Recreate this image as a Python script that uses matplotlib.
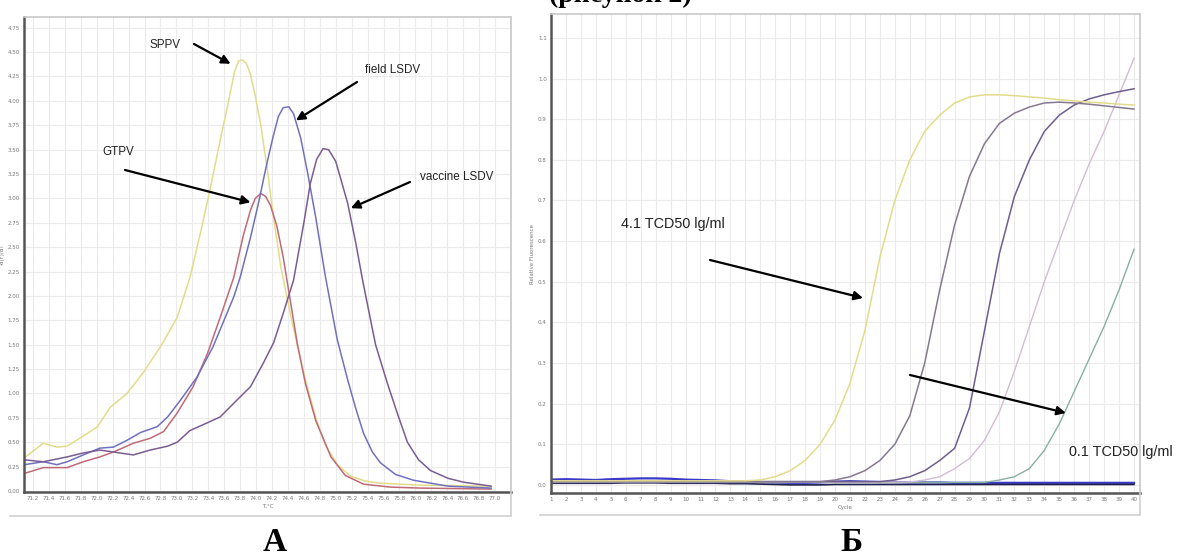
import matplotlib
matplotlib.use('Agg')
import matplotlib.pyplot as plt
from matplotlib import font_manager
from matplotlib.lines import Line2D
import numpy as np

# ---------------- data: panel A (melt curves) ----------------
sppv_t = [71.09, 71.33, 71.50, 71.63, 71.88, 72.01, 72.17, 72.38, 72.58, 72.80, 73.01, 73.17, 73.30,
          73.43, 73.55, 73.63, 73.68, 73.73, 73.78, 73.83, 73.88, 73.93, 73.99, 74.06, 74.14, 74.22,
          74.31, 74.46, 74.62, 74.75, 74.87, 75.02, 75.19, 75.38, 75.56, 76.07, 76.95]
sppv_d = [0.34, 0.49, 0.45, 0.46, 0.59, 0.66, 0.86, 1.00, 1.21, 1.48, 1.78, 2.19, 2.64, 3.12, 3.60,
          3.90, 4.10, 4.30, 4.41, 4.42, 4.38, 4.27, 4.05, 3.75, 3.30, 2.80, 2.30, 1.70, 1.14, 0.75,
          0.47, 0.27, 0.15, 0.10, 0.08, 0.06, 0.05]

gtpv_t = [71.09, 71.33, 71.63, 71.83, 72.04, 72.21, 72.46, 72.67, 72.84, 73.01, 73.21, 73.39, 73.55,
          73.72, 73.84, 73.93, 73.99, 74.06, 74.12, 74.18, 74.26, 74.34, 74.43, 74.52, 74.62, 74.75,
          74.94, 75.12, 75.35, 75.69, 76.07, 76.95]
gtpv_d = [0.18, 0.24, 0.24, 0.30, 0.35, 0.40, 0.49, 0.54, 0.61, 0.80, 1.07, 1.41, 1.78, 2.19, 2.62,
          2.88, 3.00, 3.05, 3.02, 2.93, 2.72, 2.40, 1.95, 1.50, 1.10, 0.72, 0.35, 0.16, 0.07, 0.04,
          0.03, 0.02]

field_t = [71.09, 71.33, 71.50, 71.63, 71.83, 72.04, 72.21, 72.38, 72.55, 72.76, 72.89, 73.05, 73.26,
           73.46, 73.72, 73.80, 73.93, 74.03, 74.12, 74.21, 74.28, 74.34, 74.41, 74.47, 74.56, 74.65,
           74.75, 74.87, 75.02, 75.15, 75.25, 75.35, 75.46, 75.56, 75.75, 75.98, 76.41, 76.95]
field_d = [0.27, 0.30, 0.27, 0.30, 0.37, 0.44, 0.45, 0.52, 0.60, 0.66, 0.76, 0.93, 1.17, 1.48, 1.99,
           2.19, 2.60, 2.95, 3.30, 3.62, 3.84, 3.93, 3.94, 3.87, 3.62, 3.25, 2.80, 2.20, 1.55, 1.14,
           0.85, 0.59, 0.40, 0.29, 0.17, 0.11, 0.05, 0.03]

vacc_t = [71.09, 71.33, 71.63, 71.83, 72.04, 72.21, 72.46, 72.67, 72.89, 73.01, 73.17, 73.39, 73.55,
          73.72, 73.93, 74.09, 74.22, 74.34, 74.47, 74.60, 74.68, 74.76, 74.84, 74.91, 75.00, 75.07,
          75.15, 75.25, 75.34, 75.50, 75.65, 75.78, 75.90, 76.04, 76.19, 76.41, 76.61, 76.95]
vacc_d = [0.32, 0.30, 0.35, 0.39, 0.42, 0.40, 0.37, 0.42, 0.46, 0.50, 0.62, 0.70, 0.76, 0.90, 1.07,
          1.31, 1.52, 1.82, 2.16, 2.75, 3.15, 3.40, 3.51, 3.50, 3.38, 3.18, 2.95, 2.55, 2.15, 1.50,
          1.10, 0.78, 0.50, 0.32, 0.21, 0.13, 0.09, 0.05]

a_xticks = [round(71.2 + 0.2 * i, 1) for i in range(30)]
a_yticks = [0.25 * i for i in range(20)]

# ---------------- data: panel B (amplification curves) ----------------
cycles = list(range(1, 41))
amp_41 = [0.010, 0.010, 0.010, 0.010, 0.010, 0.010, 0.010, 0.010, 0.010, 0.010, 0.010, 0.010, 0.010,
          0.010, 0.012, 0.020, 0.035, 0.060, 0.100, 0.160, 0.250, 0.380, 0.560, 0.700, 0.800, 0.870,
          0.910, 0.940, 0.955, 0.960, 0.960, 0.958, 0.955, 0.952, 0.948, 0.945, 0.942, 0.940, 0.937, 0.935]
amp_31 = [0.008] * 19 + [0.012, 0.020, 0.035, 0.060, 0.100, 0.170, 0.300, 0.480, 0.640, 0.760, 0.840,
                         0.890, 0.915, 0.930, 0.940, 0.942, 0.940, 0.937, 0.933, 0.929, 0.925]
amp_21 = [0.008] * 23 + [0.012, 0.020, 0.035, 0.060, 0.090, 0.190, 0.380, 0.570, 0.710, 0.800, 0.870,
                         0.910, 0.935, 0.950, 0.960, 0.968, 0.975]
amp_11 = [0.007] * 25 + [0.012, 0.020, 0.040, 0.065, 0.110, 0.180, 0.280, 0.390, 0.500, 0.600, 0.700,
                         0.790, 0.870, 0.960, 1.050]
amp_01 = [0.006] * 30 + [0.012, 0.020, 0.040, 0.085, 0.150, 0.230, 0.310, 0.390, 0.480, 0.580]
ntc_1 = [0.013, 0.014, 0.013, 0.012, 0.014, 0.015, 0.016, 0.016, 0.015, 0.013, 0.012, 0.011, 0.009,
         0.008, 0.007, 0.006, 0.005, 0.005, 0.006, 0.008, 0.009, 0.008, 0.007, 0.007, 0.006, 0.006,
         0.006, 0.005, 0.005, 0.005, 0.005, 0.005, 0.005, 0.005, 0.005, 0.005, 0.005, 0.005, 0.005, 0.005]
ntc_2 = [0.004, 0.004, 0.004, 0.004, 0.004, 0.005, 0.005, 0.005, 0.004, 0.004, 0.004, 0.004, 0.003,
         0.003, 0.002, 0.001, 0.000, 0.000, 0.000, 0.001, 0.001, 0.001, 0.001, 0.001, 0.001, 0.001,
         0.001, 0.001, 0.001, 0.001, 0.001, 0.001, 0.001, 0.001, 0.001, 0.001, 0.001, 0.001, 0.001, 0.001]
b_yticks = [round(0.1 * i, 1) for i in range(12)]

# ---------------- figure ----------------
W, H = 1178, 556
fig = plt.figure(figsize=(W / 100, H / 100), dpi=100)

names = {f.name for f in font_manager.fontManager.ttflist}
if 'Liberation Sans Narrow' in names:
    lab_font = ['Liberation Sans Narrow', 'DejaVu Sans']
    fs_a, fs_b = 10.5, 13
else:
    lab_font = ['Liberation Sans', 'DejaVu Sans']
    fs_a, fs_b = 8.4, 10.4
serif = ['Liberation Serif', 'DejaVu Serif']


def box(l, t, r, b):
    return [l / W, 1 - b / H, (r - l) / W, (b - t) / H]


def style_axes(ax):
    for s in ['left', 'bottom']:
        ax.spines[s].set_color('#555555')
        ax.spines[s].set_linewidth(1.8)
    for s in ['top', 'right']:
        ax.spines[s].set_color('#c8c8c8')
        ax.spines[s].set_linewidth(1.2)
    ax.grid(True, color='#ebebeb', lw=0.8)
    ax.set_axisbelow(True)
    ax.tick_params(length=0, labelsize=4, labelcolor='#777777', pad=3)


# Panel A
axA = fig.add_axes(box(24, 17, 511, 492))
axA.plot(sppv_t, sppv_d, color='#e2dc8a', lw=1.1)
axA.plot(gtpv_t, gtpv_d, color='#c06a78', lw=1.1)
axA.plot(field_t, field_d, color='#7070c0', lw=1.1)
axA.plot(vacc_t, vacc_d, color='#7a5c92', lw=1.1)
axA.set_xlim(71.087, 77.2)
axA.set_ylim(-0.01, 4.86)
axA.set_xticks(a_xticks)
axA.set_xticklabels([f'{v:.1f}' for v in a_xticks])
axA.set_yticks(a_yticks)
axA.set_yticklabels([f'{v:.2f}' for v in a_yticks])
style_axes(axA)
axA.set_xlabel('T,°C', fontsize=4, color='#777777', labelpad=2)
axA.set_ylabel('-d(F)/dT', fontsize=4, color='#777777', labelpad=2)

arrow = dict(arrowstyle='-|>', color='black', lw=1.6, mutation_scale=13, shrinkA=0, shrinkB=0)


def label(ax, text, tpos, start, target, fs):
    fig.text(tpos[0] / W, 1 - tpos[1] / H, text, ha='center', va='center', fontsize=fs,
             family=lab_font, color='#222222')
    ax.annotate('', xy=target, xycoords='data', xytext=(start[0], H - start[1]),
                textcoords='figure pixels', arrowprops=arrow, annotation_clip=False)


label(axA, 'SPPV', (165, 45), (194, 44), (73.68, 4.38), fs_a)
label(axA, 'field LSDV', (393, 70), (357, 82), (74.50, 3.80), fs_a)
label(axA, 'GTPV', (118, 152), (125, 170), (73.93, 2.96), fs_a)
label(axA, 'vaccine LSDV', (457, 177), (410, 182), (75.19, 2.90), fs_a)

# Panel B
axB = fig.add_axes(box(551, 14, 1140, 493))
axB.plot(cycles, ntc_1, color='#3a3ac8', lw=1.6)
axB.plot(cycles, ntc_2, color='#202050', lw=1.2)
axB.plot(cycles, amp_01, color='#88b0a0', lw=1.0)
axB.plot(cycles, amp_11, color='#d4bcd4', lw=1.0)
axB.plot(cycles, amp_21, color='#6e5e8e', lw=1.1)
axB.plot(cycles, amp_31, color='#857890', lw=1.1)
axB.plot(cycles, amp_41, color='#e2dc8a', lw=1.1)
axB.set_xlim(1.0, 40.4)
axB.set_ylim(-0.02, 1.159)
axB.set_xticks(cycles)
axB.set_xticklabels([str(c) for c in cycles])
axB.set_yticks(b_yticks)
axB.set_yticklabels([f'{v:.1f}' for v in b_yticks])
style_axes(axB)
axB.set_xlabel('Cycle', fontsize=4, color='#777777', labelpad=2)
axB.set_ylabel('Relative Fluorescence', fontsize=4, color='#777777', labelpad=2)

label(axB, '4.1 TCD50 lg/ml', (673, 224), (710, 260), (21.87, 0.46), fs_b)
label(axB, '0.1 TCD50 lg/ml', (1121, 452), (910, 375), (35.44, 0.177), fs_b)

# outer window frames
for (x0, y0, x1, y1) in [(10, 516, 511, 516), (511, 17, 511, 516),
                         (540, 515, 1140, 515), (1140, 14, 1140, 515)]:
    fig.add_artist(Line2D([x0 / W, x1 / W], [1 - y0 / H, 1 - y1 / H], color='#d0d0d0', lw=1.2,
                          transform=fig.transFigure))

# panel letters and clipped caption at top
fig.text(275 / W, 1 - 551 / H, 'А', ha='center', va='baseline', fontsize=24, fontweight='bold', family=serif)
fig.text(851 / W, 1 - 551 / H, 'Б', ha='center', va='baseline', fontsize=24, fontweight='bold', family=serif)
fig.text(620 / W, 1 - 2 / H, '(рисунок 2)', ha='center', va='baseline', fontsize=20,
         fontweight='bold', family=serif)

fig.savefig('out.png', dpi=100)
